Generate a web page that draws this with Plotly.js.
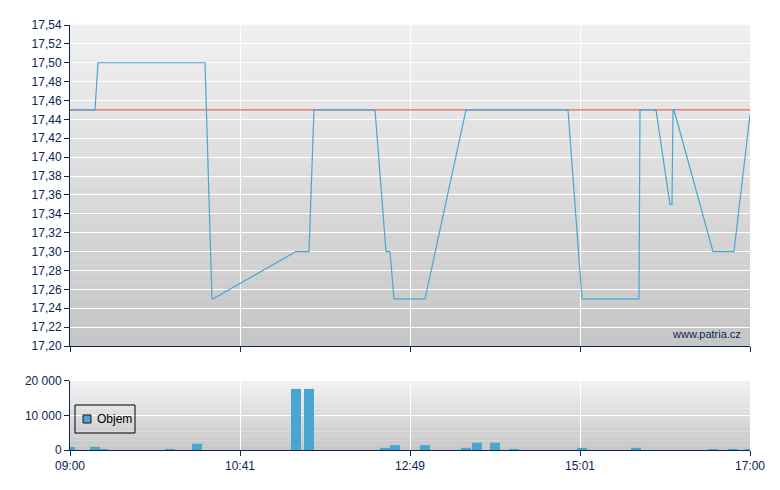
<!DOCTYPE html>
<html>
<head>
<meta charset="utf-8">
<script src="https://cdn.plot.ly/plotly-3.0.1.min.js"></script>
<style>html,body{margin:0;padding:0;background:#fff;}#chart{width:780px;height:490px;}</style>
</head>
<body>
<div id="chart"></div>
<script>
// x positions are in axis units along the (non-linear) trading-time axis: 0 = 09:00, 680 = 17:00
var tickPos = [0, 170, 340, 510, 680];
var tickLabels = ["09:00", "10:41", "12:49", "15:01", "17:00"];

var priceX = [0, 25, 28, 135, 142, 143, 226, 239, 244, 305, 316, 320, 324, 355, 396, 498, 512, 569, 570, 586, 600, 602, 603, 604, 643, 664, 680];
var priceY = [17.45, 17.45, 17.50, 17.50, 17.25, 17.25, 17.30, 17.30, 17.45, 17.45, 17.30, 17.30, 17.25, 17.25, 17.45, 17.45, 17.25, 17.25, 17.45, 17.45, 17.35, 17.35, 17.45, 17.45, 17.30, 17.30, 17.445];

var prevCloseX = [0, 680];
var prevCloseY = [17.45, 17.45];

var volX = [0, 25, 33, 100, 127, 226, 239, 315, 325, 355, 396, 407, 425, 444, 512, 566, 643, 663, 680];
var volY = [900, 900, 300, 300, 1800, 17700, 17700, 600, 1400, 1400, 600, 2100, 2100, 300, 600, 600, 300, 300, 300];
var volName = "Objem";

var navy = "#0b2556";
var barColor = "#47a7d0";
var font = {family: "Liberation Sans, Arial, sans-serif", size: 12, color: navy};

// background gradient bands (style only)
function bands(xr, yr, n, c0, c1) {
  var out = [];
  for (var i = 0; i < n; i++) {
    var t = i / (n - 1);
    var c = Math.round(c0 + (c1 - c0) * t);
    out.push({type: "rect", xref: xr, yref: yr, x0: 0, x1: 1,
      y0: 1 - (i + 1) / n, y1: 1 - i / n + 0.001,
      fillcolor: "rgb(" + c + "," + c + "," + c + ")", line: {width: 0}, layer: "below"});
  }
  return out;
}
var shapes = bands("x domain", "y domain", 40, 240, 198).concat(bands("x2 domain", "y2 domain", 15, 240, 200));
// legend box for the volume series
shapes.push({type: "rect", xref: "paper", yref: "paper", x0: 0.00735, x1: 0.0956, y0: 0.04, y1: 0.1059,
  line: {color: "#000000", width: 1}, fillcolor: "rgba(0,0,0,0)", layer: "above"});
shapes.push({type: "rect", xref: "paper", yref: "paper", x0: 0.0191, x1: 0.0309, y0: 0.0635, y1: 0.0824,
  line: {color: "#1a1a1a", width: 1}, fillcolor: barColor, layer: "above"});

var traces = [
  {x: prevCloseX, y: prevCloseY, type: "scatter", mode: "lines", xaxis: "x", yaxis: "y",
   line: {color: "#e8645e", width: 1.2}, showlegend: false, hoverinfo: "skip"},
  {x: priceX, y: priceY, type: "scatter", mode: "lines", xaxis: "x", yaxis: "y",
   line: {color: "#4aa6d2", width: 1.2}, showlegend: false},
  {x: volX, y: volY, type: "bar", name: volName, xaxis: "x2", yaxis: "y2", width: 10,
   marker: {color: barColor, line: {width: 0}}, showlegend: false}
];

var axisCommon = {showline: true, linecolor: navy, linewidth: 1, ticks: "outside", ticklen: 5,
  tickcolor: navy, tickfont: font, gridcolor: "#ffffff", gridwidth: 1, zeroline: false, fixedrange: true};

var layout = {
  width: 780, height: 490,
  margin: {l: 70, r: 30, t: 25, b: 40},
  paper_bgcolor: "#ffffff", plot_bgcolor: "rgba(0,0,0,0)",
  separators: ", ",
  font: font,
  showlegend: false,
  xaxis: Object.assign({}, axisCommon, {domain: [0, 1], range: [0, 680], tickvals: tickPos, ticktext: tickLabels,
    showticklabels: false, anchor: "y"}),
  yaxis: Object.assign({}, axisCommon, {domain: [0.2447, 1], range: [17.20, 17.54], dtick: 0.02, tick0: 17.20,
    tickformat: ".2f", anchor: "x"}),
  xaxis2: Object.assign({}, axisCommon, {domain: [0, 1], range: [0, 680], tickvals: tickPos, ticktext: tickLabels,
    anchor: "y2"}),
  yaxis2: Object.assign({}, axisCommon, {domain: [0, 0.1624], range: [0, 20000], tickvals: [0, 10000, 20000],
    tickformat: ",d", anchor: "x2"}),
  shapes: shapes,
  annotations: [
    {text: "www.patria.cz", xref: "paper", yref: "paper", x: 0.99, y: 0.255,
     xanchor: "right", yanchor: "bottom", showarrow: false, font: {family: font.family, size: 11, color: navy}},
    {text: volName, xref: "paper", yref: "paper", x: 0.0368, y: 0.0729, xanchor: "left", yanchor: "middle",
     showarrow: false, font: {family: font.family, size: 12, color: "#000000"}}
  ]
};

Plotly.newPlot("chart", traces, layout, {displayModeBar: false, staticPlot: true});
</script>
</body>
</html>
